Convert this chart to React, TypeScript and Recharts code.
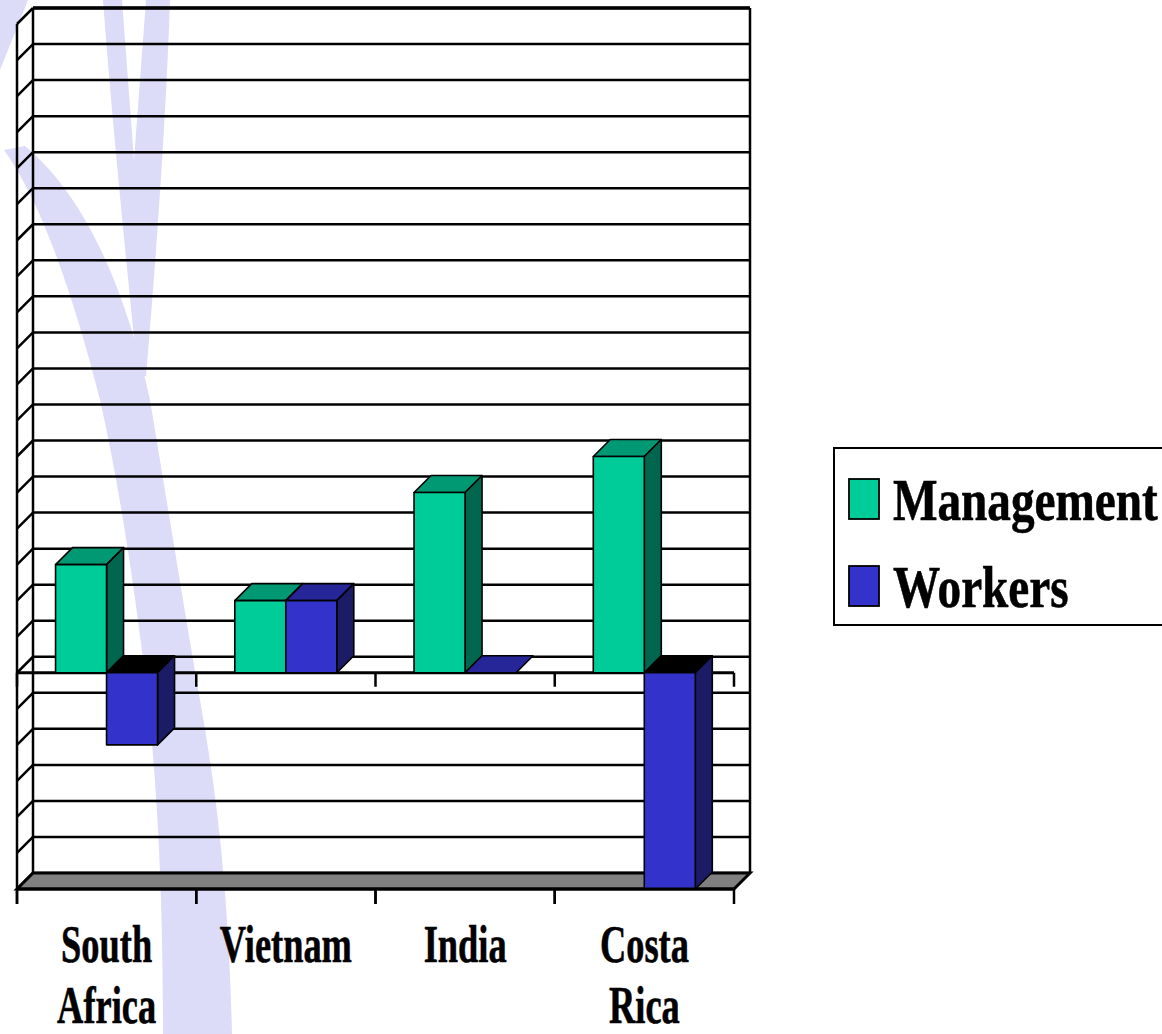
import React from "react";
import { BarChart, Bar, XAxis, YAxis, CartesianGrid, ReferenceLine, ReferenceArea, Legend } from "recharts";

// values (one grid step = 1 unit)
const countries = ["South Africa", "Vietnam", "India", "Costa Rica"];
const management = [3, 2, 5, 6];
const workers = [-2, 2, 0, -6];
const yTicks = [-6, -5, -4, -3, -2, -1, 0, 1, 2, 3, 4, 5, 6, 7, 8, 9, 10, 11, 12, 13, 14, 15, 16, 17, 18];
const seriesNames = ["Management", "Workers"];

const data = countries.map((name, i) => ({
  name,
  management: management[i],
  workers: workers[i],
}));

const FONT = "'Liberation Serif', 'Times New Roman', Times, serif";
const DX = 16; // wall depth
const DY = 16;
const BD = 17; // bar depth

const makeBox = (front: string, top: string, side: string, key: string) => (props: any) => {
  const { x, y, width, height, payload } = props;
  const v = payload ? payload[key] : 0;
  const y0 = Math.min(y, y + height);
  const y1 = Math.max(y, y + height);
  const topFill = v < 0 ? "#000000" : top;
  return (
    <g stroke="#000" strokeWidth={1.6} strokeLinejoin="round">
      <path
        d={`M${x},${y0} L${x + BD},${y0 - BD} L${x + width + BD},${y0 - BD} L${x + width},${y0} Z`}
        fill={topFill}
      />
      {y1 - y0 > 0 && (
        <path
          d={`M${x + width},${y0} L${x + width + BD},${y0 - BD} L${x + width + BD},${y1 - BD} L${x + width},${y1} Z`}
          fill={side}
        />
      )}
      {y1 - y0 > 0 && <rect x={x} y={y0} width={width} height={y1 - y0} fill={front} />}
    </g>
  );
};

// back wall line + side wall diagonal for every y tick
const gridLine = (p: any) => {
  const { x1, x2, y1 } = p;
  return (
    <g key={p.key} stroke="#000" strokeWidth={2.5}>
      <line x1={x1} y1={y1} x2={x1 + DX} y2={y1 - DY} />
      <line x1={x1 + DX} y1={y1 - DY} x2={x2 + DX} y2={y1 - DY} />
    </g>
  );
};

const Frame = (p: any) => {
  const { x, y, width, height } = p;
  const b = y + height;
  return (
    <g fill="none" stroke="#000">
      <path
        d={`M${x},${b} L${x + DX},${b - DY} L${x + width + DX},${b - DY} L${x + width},${b} Z`}
        fill="#808080"
        strokeWidth={3}
      />
      <line x1={x} y1={y} x2={x} y2={b + 15} strokeWidth={2.5} />
      <line x1={x + DX} y1={y - DY} x2={x + DX} y2={b - DY} strokeWidth={2.5} />
      <line x1={x + width + DX} y1={y - DY} x2={x + width + DX} y2={b - DY} strokeWidth={2.5} />
      <line x1={x + DX} y1={y - DY} x2={x + width + DX} y2={y - DY} strokeWidth={3.5} />
    </g>
  );
};

const ZeroLine = (p: any) => {
  const { x1, x2, y1 } = p;
  const step = (x2 - x1) / countries.length;
  const marks = [0, ...countries.map((_, i) => i + 1)];
  return (
    <g stroke="#000" strokeWidth={3}>
      <line x1={x1} y1={y1} x2={x2} y2={y1} />
      {marks.map((i) => (
        <line key={i} x1={x1 + i * step} y1={y1} x2={x1 + i * step} y2={y1 + 14} strokeWidth={2.5} />
      ))}
    </g>
  );
};

const CountryTick = (p: any) => {
  const { x, y, payload } = p;
  const half = payload && payload.offset ? payload.offset : 0;
  const lines = String(payload.value).split(" ");
  return (
    <g>
      <line x1={x - half} y1={y} x2={x - half} y2={y + 15} stroke="#000" strokeWidth={2.5} />
      <line x1={x + half} y1={y} x2={x + half} y2={y + 15} stroke="#000" strokeWidth={2.5} />
      <g transform={`translate(${x},${y}) scale(0.7,1)`}>
        {lines.map((l, i) => (
          <text
            key={i}
            x={0}
            y={73 + i * 61}
            textAnchor="middle"
            fontSize={52}
            fontWeight="bold"
            fontFamily={FONT}
            fill="#000"
            stroke="#000"
            strokeWidth={0.6}
          >
            {l}
          </text>
        ))}
      </g>
    </g>
  );
};

const LegendBox = (props: any) => {
  const items = props.payload || [];
  return (
    <svg width={340} height={180} style={{ display: "block" }}>
      <rect x={1} y={1} width={338} height={177} fill="#fff" stroke="#000" strokeWidth={2} />
      {items.map((it: any, i: number) => (
        <g key={it.value}>
          <rect x={16} y={32 + i * 87} width={30} height={40} fill={it.color} stroke="#000" strokeWidth={1.8} />
          <text
            transform={`translate(60,${73 + i * 87}) scale(0.8,1)`}
            fontSize={59}
            fontWeight="bold"
            fontFamily={FONT}
            fill="#000"
            stroke="#000"
            strokeWidth={0.6}
          >
            {it.value}
          </text>
        </g>
      ))}
    </svg>
  );
};

const Watermark = () => (
  <svg width={1162} height={1034} style={{ position: "absolute", left: 0, top: 0 }}>
    <g fill="#dcdcf9">
      <path d="M0,0 L28,0 L0,70 Z" />
      <path d="M4,150 C40,200 72,290 100,400 C118,480 134,580 148,700 C158,800 163,900 163,1034 L232,1034 C229,900 218,800 200,700 C186,620 170,520 150,400 C128,300 90,200 25,146 Z" />
      <path
        fillRule="evenodd"
        d="M103,0 L170,0 C166,120 156,260 146,376 L138,376 C126,260 112,120 103,0 Z M122,0 L146,0 L134,160 Z"
      />
    </g>
  </svg>
);

export default function App() {
  return (
    <div style={{ position: "absolute", left: 0, top: 0, width: 1162, height: 1034, overflow: "hidden", background: "#fff" }}>
      <Watermark />
      <div style={{ position: "absolute", left: 0, top: 0 }}>
        <BarChart
          width={1162}
          height={1034}
          data={data}
          margin={{ top: 24, right: 428, left: 17, bottom: 144 }}
          barCategoryGap="21.5%"
          barGap={0}
        >
          <CartesianGrid horizontal={gridLine} vertical={false} />
          <XAxis
            dataKey="name"
            height={1}
            interval={0}
            tickLine={false}
            tickSize={0}
            tickMargin={0}
            axisLine={{ stroke: "#000", strokeWidth: 3 }}
            tick={<CountryTick />}
          />
          <YAxis hide domain={[-6, 18]} ticks={yTicks} type="number" />
          <ReferenceArea y1={-6} y2={18} shape={<Frame />} zIndex={-50} />
          <ReferenceLine y={0} shape={<ZeroLine />} zIndex={-40} />
          <Legend
            layout="vertical"
            align="center"
            verticalAlign="middle"
            content={<LegendBox />}
            wrapperStyle={{ left: 833, top: 447, width: 340, height: 180 }}
          />
          <Bar
            dataKey="management"
            name={seriesNames[0]}
            fill="#00CC99"
            isAnimationActive={false}
            shape={makeBox("#00CC99", "#009973", "#00664D", "management")}
          />
          <Bar
            dataKey="workers"
            name={seriesNames[1]}
            fill="#3333CC"
            isAnimationActive={false}
            shape={makeBox("#3333CC", "#262699", "#1C1C66", "workers")}
          />
        </BarChart>
      </div>
    </div>
  );
}
